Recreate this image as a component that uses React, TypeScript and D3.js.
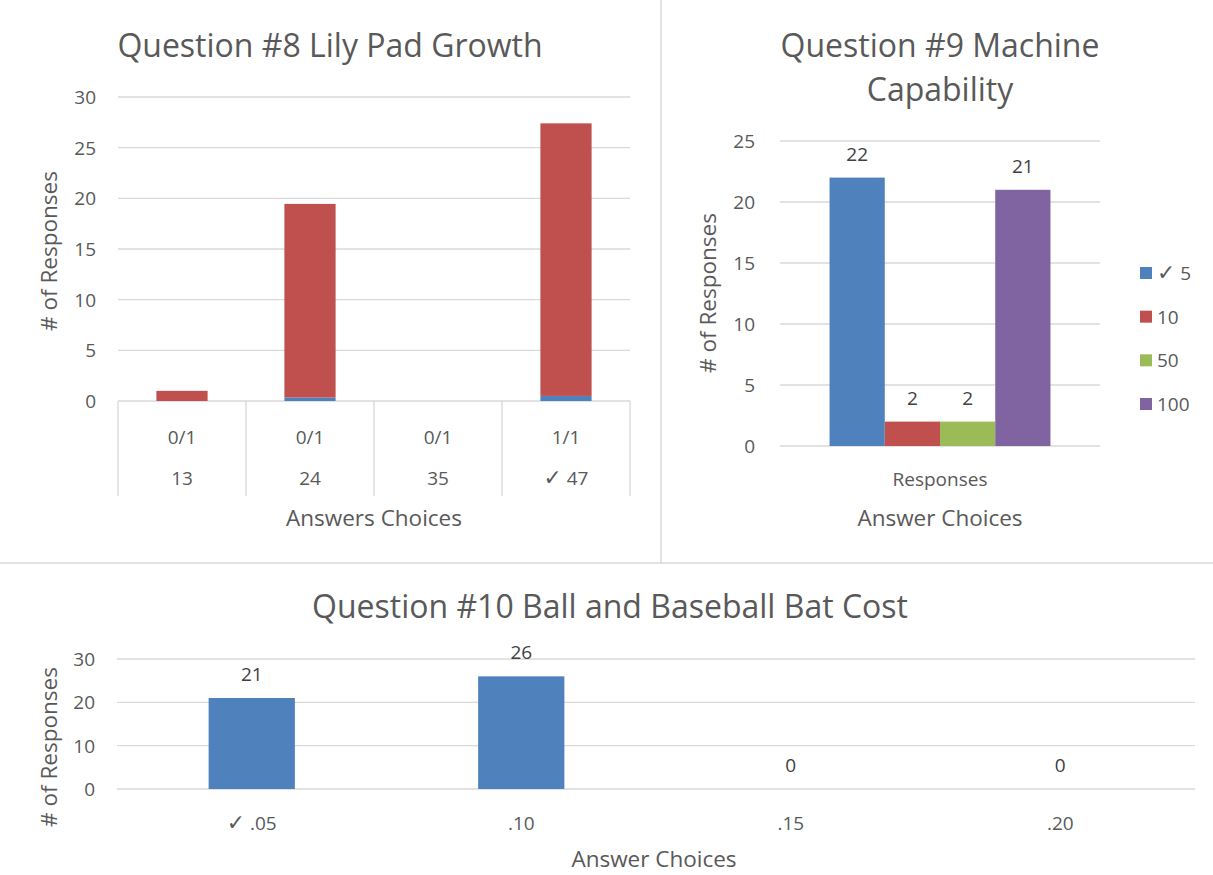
import React from 'react';
import * as d3 from 'd3';

// Question 8 – stacked bars over a two-level category axis
const q8Scores = ['0/1', '0/1', '0/1', '1/1'];
const q8Choices = ['13', '24', '35', '✓ 47'];
const q8Blue = [0, 0.35, 0, 0.5];
const q8Red = [1, 19.1, 0, 26.9];
const q8Ticks = [0, 5, 10, 15, 20, 25, 30];

// Question 9 – clustered bars, one category
const q9Category = ['Responses'];
const q9Series = ['✓ 5', '10', '50', '100'];
const q9Values = [22, 2, 2, 21];
const q9Ticks = [0, 5, 10, 15, 20, 25];

// Question 10
const q10Choices = ['✓ .05', '.10', '.15', '.20'];
const q10Values = [21, 26, 0, 0];
const q10Ticks = [0, 10, 20, 30];

const BLUE = '#4F81BD';
const RED = '#C0504D';
const GREEN = '#9BBB59';
const PURPLE = '#8064A2';
const seriesColors = [BLUE, RED, GREEN, PURPLE];
const GRID = '#d9d9d9';
const TEXT = '#595959';
const VALUE = '#404040';
const FONT = '"Open Sans", Lato, sans-serif';
const TITLE = 32;
const LABEL = 19;
const AXIS = 22.5;

// the tick mark in front of the correct answer is drawn a little larger, like the original
const Label = ({ text }: { text: string }) =>
  text.startsWith('✓') ? (
    <>
      <tspan fontFamily="DejaVu Sans" fontSize={LABEL * 1.15}>✓</tspan>
      {text.slice(1)}
    </>
  ) : (
    <>{text}</>
  );

const YTicks = ({ y, ticks, x0, x1, labelX }: any) => (
  <g>
    {ticks.map((t: number) => (
      <g key={t}>
        <line x1={x0} x2={x1} y1={y(t)} y2={y(t)} stroke={GRID} strokeWidth={1.3} />
        <text x={labelX} y={y(t)} dy="0.36em" textAnchor="end" fontSize={LABEL} fill={TEXT}>
          {t}
        </text>
      </g>
    ))}
  </g>
);

const YTitle = ({ x, y }: any) => (
  <text transform={`translate(${x},${y}) rotate(-90)`} textAnchor="middle" fontSize={AXIS} fill={TEXT}>
    # of Responses
  </text>
);

const Q8 = () => {
  const x = d3.scaleBand().domain(q8Choices).range([118, 630]).paddingInner(0.6).paddingOuter(0.3);
  const cells = d3.scaleBand().domain(q8Choices).range([118, 630]);
  const y = d3.scaleLinear().domain([0, 30]).range([401, 97]);
  const stacked = d3.stack<any>().keys(['blue', 'red'])(
    q8Choices.map((c, i) => ({ c, blue: q8Blue[i], red: q8Red[i] }))
  );
  const bounds = [...q8Choices.map((c) => cells(c) as number), 630];
  return (
    <g>
      <text x={330} y={57} textAnchor="middle" fontSize={TITLE} fill={TEXT}>
        Question #8 Lily Pad Growth
      </text>
      <YTicks y={y} ticks={q8Ticks} x0={118} x1={630} labelX={96} />
      {stacked.map((s, si) => (
        <g key={si} fill={si === 0 ? BLUE : RED}>
          {s.map((d: any, i) => (
            <rect key={i} x={x(q8Choices[i])} width={x.bandwidth()} y={y(d[1])} height={y(d[0]) - y(d[1])} />
          ))}
        </g>
      ))}
      {bounds.map((b, i) => (
        <line key={i} x1={b} x2={b} y1={y(0)} y2={496} stroke={GRID} strokeWidth={1.3} />
      ))}
      {q8Choices.map((c, i) => {
        const cx = (cells(c) as number) + cells.bandwidth() / 2;
        return (
          <g key={c} fontSize={LABEL} fill={TEXT} textAnchor="middle">
            <text x={cx} y={444}>{q8Scores[i]}</text>
            <text x={cx} y={485}><Label text={c} /></text>
          </g>
        );
      })}
      <text x={374} y={526} textAnchor="middle" fontSize={AXIS} fill={TEXT}>Answers Choices</text>
      <YTitle x={57} y={251} />
    </g>
  );
};

const Q9 = () => {
  const x = d3.scaleBand().domain(q9Category).range([780, 1100]).paddingInner(0.3).paddingOuter(0.157);
  const xs = d3.scaleBand().domain(q9Series).range([0, x.bandwidth()]);
  const y = d3.scaleLinear().domain([0, 25]).range([446, 141]);
  const legend = d3.scalePoint().domain(q9Series).range([273, 404]);
  return (
    <g>
      <text x={940} y={57} textAnchor="middle" fontSize={TITLE} fill={TEXT}>Question #9 Machine</text>
      <text x={940} y={101} textAnchor="middle" fontSize={TITLE} fill={TEXT}>Capability</text>
      <YTicks y={y} ticks={q9Ticks} x0={780} x1={1100} labelX={755} />
      {q9Category.map((c) => (
        <g key={c}>
          {q9Series.map((s, i) => {
            const bx = (x(c) as number) + (xs(s) as number);
            return (
              <g key={s}>
                <rect x={bx} width={xs.bandwidth()} y={y(q9Values[i])} height={y(0) - y(q9Values[i])} fill={seriesColors[i]} />
                <text x={bx + xs.bandwidth() / 2} y={y(q9Values[i]) - 17} textAnchor="middle" fontSize={LABEL} fill={VALUE}>
                  {q9Values[i]}
                </text>
              </g>
            );
          })}
          <text x={(x(c) as number) + x.bandwidth() / 2} y={486} textAnchor="middle" fontSize={LABEL} fill={TEXT}>{c}</text>
        </g>
      ))}
      <text x={940} y={526} textAnchor="middle" fontSize={AXIS} fill={TEXT}>Answer Choices</text>
      <YTitle x={716} y={293} />
      {q9Series.map((s, i) => (
        <g key={s}>
          <rect x={1140} y={(legend(s) as number) - 6} width={12} height={12} fill={seriesColors[i]} />
          <text x={1157} y={legend(s)} dy="0.36em" fontSize={LABEL} fill={TEXT}><Label text={s} /></text>
        </g>
      ))}
    </g>
  );
};

const Q10 = () => {
  const x = d3.scaleBand().domain(q10Choices).range([117, 1195]).paddingInner(0.68).paddingOuter(0.34);
  const y = d3.scaleLinear().domain([0, 30]).range([789, 659]);
  return (
    <g>
      <text x={610} y={618} textAnchor="middle" fontSize={TITLE} fill={TEXT}>
        Question #10 Ball and Baseball Bat Cost
      </text>
      <YTicks y={y} ticks={q10Ticks} x0={117} x1={1195} labelX={95} />
      {q10Choices.map((c, i) => {
        const cx = (x(c) as number) + x.bandwidth() / 2;
        return (
          <g key={c}>
            {q10Values[i] > 0 && (
              <rect x={x(c)} width={x.bandwidth()} y={y(q10Values[i])} height={y(0) - y(q10Values[i])} fill={BLUE} />
            )}
            <text x={cx} y={y(q10Values[i]) - 17} textAnchor="middle" fontSize={LABEL} fill={VALUE}>{q10Values[i]}</text>
            <text x={cx} y={830} textAnchor="middle" fontSize={LABEL} fill={TEXT}><Label text={c} /></text>
          </g>
        );
      })}
      <text x={654} y={867} textAnchor="middle" fontSize={AXIS} fill={TEXT}>Answer Choices</text>
      <YTitle x={57} y={747} />
    </g>
  );
};

export default function App() {
  return (
    <svg
      width={1213}
      height={875}
      style={{ position: 'absolute', left: 0, top: 0, background: '#fff' }}
      fontFamily={FONT}
    >
      <rect width={1213} height={875} fill="#fff" />
      <line x1={661} x2={661} y1={0} y2={563} stroke={GRID} strokeWidth={1.5} />
      <line x1={0} x2={1213} y1={563} y2={563} stroke={GRID} strokeWidth={1.5} />
      <Q8 />
      <Q9 />
      <Q10 />
    </svg>
  );
}
